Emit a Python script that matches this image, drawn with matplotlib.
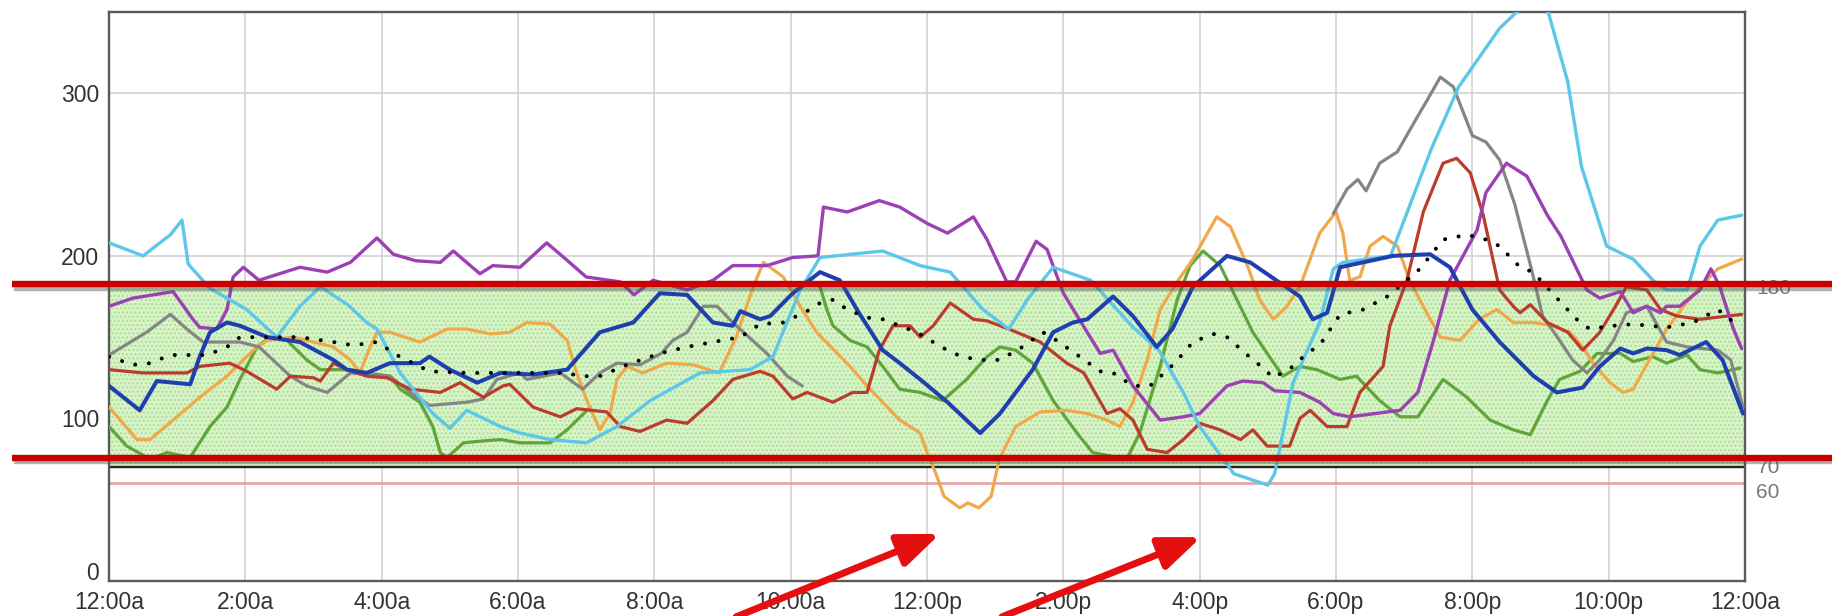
import matplotlib
matplotlib.use("Agg")
import matplotlib.pyplot as plt
import matplotlib.patheffects as pe
import matplotlib.transforms as mtransforms
import numpy as np

# Glucose traces, one per day: (hour of day, mg/dL); nan breaks a trace at a sensor gap
cyan_day = [(0, 208), (0.5, 200), (0.9, 213), (1.07, 222), (1.16, 195), (1.48, 180), (2.02, 167),
            (2.46, 150), (2.8, 169), (3.1, 181), (3.5, 170), (3.78, 159), (3.93, 155), (4.27, 128),
            (4.75, 103), (5.0, 94), (5.25, 105), (5.74, 95), (6.03, 91), (6.47, 87), (7.0, 85),
            (7.45, 95), (7.94, 111), (8.67, 128), (9.4, 130), (9.74, 138), (10.14, 179), (10.43, 199),
            (11.35, 203), (11.9, 194), (12.34, 190), (12.82, 167), (13.2, 155), (13.47, 173),
            (13.85, 193), (14.4, 185), (15.0, 157), (15.4, 142), (15.76, 116), (16.0, 95), (16.5, 66),
            (17.0, 59), (17.1, 66), (17.37, 122), (17.76, 159), (17.96, 192), (18.1, 196), (18.8, 200),
            (19.4, 266), (19.8, 304), (20.4, 340), (20.8, 356), (20.95, 365), (21.1, 352), (21.4, 307),
            (21.6, 255), (21.97, 206), (22.36, 198), (22.65, 185), (22.85, 179), (23.15, 179),
            (23.34, 206), (23.6, 222), (23.95, 225)]

purple_day = [(0, 169), (0.35, 174), (0.94, 178), (1.23, 161), (1.33, 156), (1.58, 155), (1.73, 167),
              (1.82, 187), (1.97, 193), (2.2, 185), (2.8, 193), (3.2, 190), (3.54, 196), (3.93, 211),
              (4.17, 201), (4.5, 197), (4.86, 196), (5.05, 203), (5.44, 189), (5.63, 194), (6.03, 193),
              (6.42, 208), (6.7, 198), (7.0, 187), (7.5, 184), (7.7, 176), (7.98, 185), (8.48, 179),
              (8.86, 185), (9.15, 194), (9.65, 194), (10.03, 199), (10.4, 200), (10.48, 230),
              (10.83, 227), (11.3, 234), (11.6, 230), (12.0, 220), (12.3, 214), (12.68, 224),
              (12.88, 210), (13.17, 184), (13.3, 184), (13.6, 209), (13.76, 204), (14.0, 177),
              (14.35, 153), (14.54, 140), (14.73, 142), (15.02, 120), (15.42, 99), (15.76, 101),
              (16.0, 103), (16.4, 120), (16.63, 123), (16.93, 122), (17.1, 117), (17.47, 116),
              (17.76, 110), (17.96, 103), (18.2, 101), (18.94, 105), (19.2, 116), (19.43, 148),
              (19.67, 185), (20.07, 216), (20.2, 239), (20.5, 257), (20.8, 249), (21.1, 225),
              (21.3, 212), (21.68, 179), (21.87, 174), (22.17, 178), (22.36, 165), (22.56, 169),
              (22.76, 165), (22.85, 169), (23.04, 169), (23.34, 179), (23.5, 192), (23.63, 181),
              (23.83, 155), (23.95, 143)]

blue_day = [(0, 120), (0.45, 105), (0.7, 123), (1.19, 121), (1.33, 138), (1.48, 153), (1.73, 159),
            (1.92, 157), (2.32, 150), (2.8, 147), (3.29, 136), (3.49, 130), (3.78, 128), (4.12, 134),
            (4.56, 134), (4.7, 138), (5.0, 130), (5.4, 122), (5.74, 128), (6.22, 127), (6.72, 130),
            (7.2, 153), (7.69, 159), (8.08, 177), (8.48, 176), (8.86, 159), (9.15, 157), (9.26, 166),
            (9.55, 161), (9.7, 163), (10.03, 177), (10.43, 190), (10.72, 185), (11.0, 165),
            (11.35, 142), (11.6, 134), (11.9, 124), (12.3, 110), (12.78, 91), (13.07, 103),
            (13.55, 130), (13.85, 153), (14.14, 159), (14.35, 161), (14.73, 175), (15.02, 163),
            (15.37, 144), (15.6, 155), (15.9, 181), (16.4, 200), (16.74, 196), (17.47, 175),
            (17.66, 161), (17.87, 165), (18.06, 193), (18.84, 200), (19.38, 201), (19.67, 193),
            (20.0, 167), (20.4, 147), (20.9, 126), (21.24, 116), (21.62, 119), (21.87, 132),
            (22.17, 143), (22.36, 140), (22.56, 143), (22.85, 142), (23.04, 139), (23.43, 147),
            (23.67, 136), (23.97, 103)]

gray_day = [(0, 139), (0.55, 153), (0.9, 164), (1.14, 155), (1.38, 147), (1.92, 147), (2.2, 144),
            (2.66, 126), (2.9, 120), (3.2, 116), (3.54, 128), (4.12, 126), (4.42, 116), (4.7, 108),
            (5.25, 110), (5.49, 112), (5.69, 124), (6.03, 128), (6.13, 124), (6.62, 128), (6.95, 118),
            (7.2, 128), (7.45, 134), (7.79, 133), (8.1, 140), (8.27, 148), (8.48, 153), (8.72, 169),
            (8.92, 169), (9.15, 159), (9.65, 140), (9.95, 126), (10.17, 120), (10.2, np.nan),
            (17.96, 226), (18.16, 241), (18.32, 247), (18.44, 240), (18.64, 257), (18.9, 264),
            (19.2, 286), (19.34, 296), (19.53, 310), (19.72, 304), (20.0, 274), (20.2, 270),
            (20.4, 259), (20.62, 232), (20.86, 193), (21.03, 163), (21.28, 148), (21.47, 136),
            (21.68, 128), (21.87, 136), (22.07, 148), (22.26, 165), (22.56, 169), (22.85, 147),
            (23.15, 144), (23.6, 142), (23.79, 136), (23.97, 107)]

red_day = [(0, 130), (0.5, 128), (1.14, 128), (1.33, 132), (1.77, 134), (2.02, 129), (2.46, 118),
           (2.66, 126), (3.0, 125), (3.1, 123), (3.29, 134), (3.49, 130), (3.78, 126), (4.08, 125),
           (4.42, 118), (4.86, 116), (5.15, 122), (5.49, 113), (5.78, 120), (5.88, 121), (6.22, 107),
           (6.42, 104), (6.62, 101), (6.86, 106), (7.3, 104), (7.5, 95), (7.79, 92), (8.18, 99),
           (8.48, 97), (8.86, 111), (9.15, 124), (9.55, 129), (9.74, 126), (10.03, 112), (10.24, 116),
           (10.62, 110), (10.91, 116), (11.12, 116), (11.3, 142), (11.5, 157), (11.75, 157),
           (11.9, 150), (12.09, 157), (12.34, 171), (12.68, 161), (12.88, 160), (13.2, 155),
           (13.66, 147), (14.05, 134), (14.3, 128), (14.64, 103), (14.83, 106), (15.02, 99),
           (15.23, 81), (15.52, 79), (15.76, 87), (16.0, 97), (16.3, 93), (16.6, 87), (16.78, 93),
           (16.99, 83), (17.32, 83), (17.47, 100), (17.62, 105), (17.87, 95), (18.16, 95),
           (18.35, 116), (18.69, 132), (18.79, 157), (19.04, 185), (19.28, 227), (19.57, 257),
           (19.77, 260), (19.97, 251), (20.16, 225), (20.4, 179), (20.6, 169), (20.7, 165),
           (20.85, 170), (21.1, 159), (21.4, 153), (21.62, 142), (21.87, 153), (22.1, 169),
           (22.26, 181), (22.56, 179), (22.76, 167), (23.0, 163), (23.34, 161), (23.95, 164)]

orange_day = [(0, 107), (0.41, 87), (0.6, 87), (0.94, 99), (1.33, 113), (1.73, 126), (1.92, 134),
              (2.17, 144), (2.32, 148), (2.7, 150), (3.0, 147), (3.29, 144), (3.54, 136), (3.68, 128),
              (3.83, 144), (3.93, 153), (4.12, 153), (4.56, 147), (4.96, 155), (5.25, 155), (5.59, 152),
              (5.88, 153), (6.13, 159), (6.47, 158), (6.72, 148), (6.86, 128), (7.0, 112), (7.2, 93),
              (7.35, 103), (7.45, 124), (7.6, 132), (7.83, 128), (8.18, 134), (8.57, 133), (8.95, 128),
              (9.2, 150), (9.45, 181), (9.6, 196), (9.89, 187), (10.14, 169), (10.38, 153),
              (10.87, 132), (11.12, 120), (11.6, 99), (11.9, 91), (12.0, 79), (12.13, 66), (12.25, 52),
              (12.48, 45), (12.6, 48), (12.76, 45), (12.94, 52), (13.06, 75), (13.3, 95), (13.66, 104),
              (14.05, 105), (14.35, 103), (14.64, 99), (14.83, 95), (15.02, 110), (15.23, 136),
              (15.42, 167), (15.67, 184), (15.9, 198), (16.25, 224), (16.45, 218), (16.7, 194),
              (16.88, 173), (17.08, 161), (17.28, 169), (17.47, 181), (17.62, 198), (17.76, 214),
              (18.0, 227), (18.1, 214), (18.2, 185), (18.35, 187), (18.5, 206), (18.69, 212),
              (18.9, 206), (19.08, 185), (19.33, 165), (19.53, 150), (19.82, 148), (20.1, 161),
              (20.36, 167), (20.6, 159), (20.89, 159), (21.18, 157), (21.43, 153), (21.62, 144),
              (21.77, 134), (22.02, 122), (22.21, 116), (22.36, 118), (22.65, 140), (22.85, 155),
              (23.1, 169), (23.34, 181), (23.6, 192), (23.95, 198)]

green_day = [(0, 95), (0.26, 83), (0.6, 75), (0.85, 79), (1.19, 76), (1.48, 95), (1.73, 107),
             (1.92, 124), (2.17, 144), (2.36, 150), (2.61, 148), (2.9, 136), (3.1, 130), (3.54, 130),
             (3.78, 128), (4.12, 126), (4.27, 118), (4.56, 110), (4.75, 95), (4.86, 79), (4.96, 76),
             (5.2, 85), (5.44, 86), (5.74, 87), (6.03, 85), (6.47, 85), (6.72, 93), (7.06, 107),
             (7.1, np.nan), (10.43, 181), (10.53, 167), (10.62, 157), (10.87, 148), (11.12, 144),
             (11.35, 132), (11.6, 118), (11.9, 116), (12.23, 111), (12.58, 124), (12.88, 138),
             (13.07, 144), (13.3, 142), (13.55, 134), (13.85, 111), (14.2, 91), (14.43, 79),
             (14.93, 75), (15.12, 91), (15.42, 132), (15.67, 173), (15.86, 194), (16.05, 203),
             (16.3, 194), (16.5, 177), (16.78, 153), (16.99, 140), (17.22, 126), (17.47, 132),
             (17.72, 130), (18.06, 124), (18.3, 126), (18.64, 111), (18.94, 101), (19.2, 101),
             (19.57, 124), (19.92, 113), (20.26, 99), (20.6, 93), (20.85, 90), (21.1, 111),
             (21.28, 124), (21.58, 129), (21.83, 140), (22.17, 140), (22.36, 135), (22.65, 138),
             (22.85, 134), (23.15, 139), (23.34, 130), (23.6, 128), (23.93, 131)]

# hourly mean across days
mean_trace = [(0, 138), (0.35, 133), (0.6, 134), (0.9, 139), (1.44, 139), (1.73, 144), (1.92, 150),
              (2.8, 150), (3.29, 147), (3.58, 145), (3.93, 147), (4.22, 139), (4.7, 129), (5.25, 128),
              (6.72, 128), (6.9, 126), (7.2, 126), (7.6, 133), (8.08, 140), (8.48, 144), (8.86, 147),
              (9.26, 150), (9.55, 158), (9.89, 159), (10.24, 166), (10.43, 171), (10.62, 173),
              (10.83, 167), (11.12, 162), (11.35, 161), (11.6, 157), (11.85, 153), (12.09, 147),
              (12.38, 140), (12.73, 136), (13.07, 136), (13.4, 144), (13.7, 153), (13.9, 148),
              (14.24, 138), (14.54, 129), (14.73, 128), (15.02, 120), (15.27, 120), (15.56, 131),
              (15.76, 140), (15.9, 147), (16.2, 152), (16.4, 150), (16.7, 139), (16.93, 131),
              (17.08, 125), (17.37, 132), (17.57, 140), (17.76, 145), (18.06, 164), (18.4, 167),
              (18.75, 175), (18.9, 180), (19.23, 192), (19.57, 210), (19.92, 213), (20.2, 210),
              (20.4, 206), (20.7, 193), (20.89, 190), (21.24, 174), (21.53, 161), (21.72, 155),
              (22.07, 157), (22.36, 158), (22.85, 156), (23.24, 159), (23.6, 167), (23.93, 156)]

target_low, target_high = 70, 180
hypo_limit = 60
hour_ticks = list(range(0, 25, 2))
hour_labels = ["12:00a", "2:00a", "4:00a", "6:00a", "8:00a", "10:00a", "12:00p",
               "2:00p", "4:00p", "6:00p", "8:00p", "10:00p", "12:00a"]
glucose_ticks = [0, 100, 200, 300]

plt.rcParams["font.family"] = ["Liberation Sans", "DejaVu Sans"]

fig = plt.figure(figsize=(18.33, 6.16), dpi=100)
ax = fig.add_axes([0.0595, 0.0568, 0.8925, 0.9237])

# target range band with stippled fill
ax.fill_between([0, 24], target_low, target_high, facecolor="#d4f3c3", edgecolor="#abdc90",
                hatch="....", linewidth=0, alpha=0.9, zorder=1)
ax.axhline(target_low, color="#222222", lw=1.7, zorder=1.5)
ax.axhline(hypo_limit, color="#e8a0a0", lw=1.9, zorder=1.5)

day_styles = [
    (green_day, "#5fa53a", 2.3),
    (orange_day, "#f0a848", 2.3),
    (gray_day, "#858585", 2.3),
    (red_day, "#bb3c2c", 2.3),
    (purple_day, "#9c40b4", 2.4),
    (cyan_day, "#5cc7e8", 2.4),
    (blue_day, "#1f3fae", 2.9),
]
for trace, color, lw in day_styles:
    hrs, vals = np.array(trace, dtype=float).T
    ax.plot(hrs, vals, color=color, lw=lw, zorder=3, solid_joinstyle="round",
            solid_capstyle="round")

mh, mv = np.array(mean_trace, dtype=float).T
ax.plot(mh, mv, color="black", lw=2.9, linestyle=(0, (0.01, 3.4)),
        dash_capstyle="round", zorder=4)

ax.set_xlim(0, 24)
ax.set_ylim(0, 350)
ax.set_xticks(hour_ticks)
ax.set_xticklabels(hour_labels)
ax.set_yticks(glucose_ticks)
ax.tick_params(length=0, labelsize=16.5, labelcolor="#333333")
ax.tick_params(axis="x", pad=7)
ax.tick_params(axis="y", pad=7)
# the "0" label sits on the baseline, just clear of the first hour label
zero_label = ax.get_yticklabels()[0]
zero_label.set_verticalalignment("bottom")
zero_label.set_transform(zero_label.get_transform()
                         + mtransforms.ScaledTranslation(0, -3 / 72, fig.dpi_scale_trans))
ax.grid(True, color="#d2d2d2", lw=1.2, zorder=0)
ax.set_axisbelow(True)
for side in ax.spines.values():
    side.set_color("#5a5a5a")
    side.set_linewidth(1.7)

# threshold labels just outside the right edge
right_trans = mtransforms.blended_transform_factory(ax.transAxes, ax.transData)
ax.text(1.007, target_high, str(target_high), transform=right_trans, va="center",
        fontsize=15, color="#777777")
ax.text(1.007, target_low, str(target_low), transform=right_trans, va="center",
        fontsize=15, color="#777777")
ax.text(1.007, hypo_limit, str(hypo_limit), transform=right_trans, va="top",
        fontsize=15, color="#777777")

# red guide lines across the whole figure, with a soft drop shadow
guide_trans = mtransforms.blended_transform_factory(fig.transFigure, ax.transData)
shadow = [pe.SimpleLineShadow(offset=(1.5, -2.5), shadow_color="#555555", alpha=0.45), pe.Normal()]
for level in (182.5, 75.7):
    ax.plot([0.0065, 1.0], [level, level], transform=guide_trans, color="#c80000", lw=4.6,
            clip_on=False, zorder=6, solid_capstyle="butt", path_effects=shadow)

# pointer arrows toward the afternoon lows
arrow_props = dict(arrowstyle="-|>,head_length=1.0,head_width=0.4", color="#e41010", lw=5,
                   mutation_scale=25, shrinkA=0, shrinkB=0)
ax.annotate("", xy=(12.19, 29), xytext=(9.2, -22), arrowprops=arrow_props,
            annotation_clip=False, zorder=7)
ax.annotate("", xy=(16.02, 27), xytext=(13.1, -22), arrowprops=arrow_props,
            annotation_clip=False, zorder=7)

fig.savefig("out.png", dpi=100)
